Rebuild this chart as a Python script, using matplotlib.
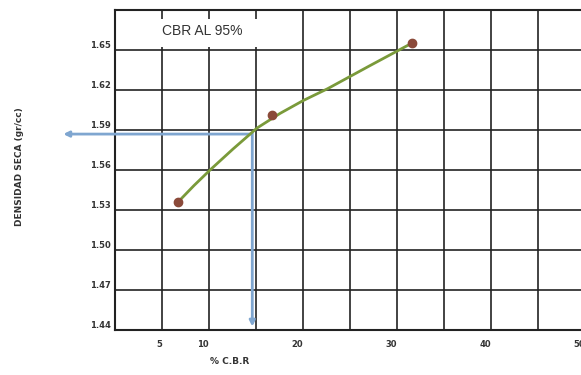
import numpy as np
import matplotlib.pyplot as plt
from matplotlib.patches import Rectangle

# ensayo CBR: puntos medidos
cbr = [6.7, 16.7, 31.6]
densidad = [1.536, 1.601, 1.655]

# curva dibujada a mano
curva_x = [6.7, 8.4, 10.1, 12.55, 15.1, 17.55, 20.0, 22.6, 27.13, 31.6]
curva_y = [1.536, 1.5484, 1.560, 1.5758, 1.5915, 1.6025, 1.6121, 1.621, 1.6384, 1.6553]

# lectura al 95%
cbr_95 = 14.6
dens_95 = 1.587

yticks = [1.44, 1.47, 1.50, 1.53, 1.56, 1.59, 1.62, 1.65]
ylabels = ["1.44", "1.47", "1.50", "1.53", "1.56", "1.59", "1.62", "1.65"]
xticks = [5, 10, 15, 20, 25, 30, 35, 40, 45, 50]
xlabels = ["5", "10", "", "20", "", "30", "", "40", "", "50"]

fig = plt.figure(figsize=(5.81, 3.75), dpi=100)
ax = fig.add_axes([0.198, 0.12, 0.809, 0.853])

ax.set_xlim(0, 50)
ax.set_ylim(1.44, 1.68)
ax.set_xticks(xticks)
ax.set_xticklabels(xlabels, ha="right", fontsize=6, fontweight="bold", color="#333333")
ax.set_yticks(yticks)
ax.set_yticklabels(ylabels, va="bottom", fontsize=6, fontweight="bold", color="#333333")
ax.tick_params(length=0)
ax.tick_params(axis="x", pad=7)
ax.tick_params(axis="y", pad=3)
ax.grid(True, color="#222222", lw=1.2)
ax.set_axisbelow(True)
for s in ["left", "top", "bottom"]:
    ax.spines[s].set_linewidth(1.5)
    ax.spines[s].set_color("#222222")
ax.spines["right"].set_visible(False)

# recuadro del titulo
ax.add_patch(Rectangle((4.0, 1.652), 11.05, 0.0215, facecolor="white",
                       edgecolor="none", zorder=2))
ax.text(5.0, 1.664, "CBR AL 95%", fontsize=10, family="Liberation Sans",
        color="#333333", va="center", zorder=3)

# flechas azules
ax.annotate("", xy=(cbr_95, 1.4405), xytext=(cbr_95, 1.59),
            arrowprops=dict(arrowstyle="-|>", color="#7fa6d0", lw=2,
                            mutation_scale=8), zorder=3, annotation_clip=False)
ax.annotate("", xy=(-5.8, dens_95), xytext=(cbr_95 + 0.1, dens_95),
            arrowprops=dict(arrowstyle="-|>", color="#7fa6d0", lw=2,
                            mutation_scale=8), zorder=3, annotation_clip=False)

ax.plot(curva_x, curva_y, color="#7a9a3a", lw=2, zorder=4)
ax.plot(cbr, densidad, "o", color="#8b4a3a", ms=6, zorder=5)

fig.text(0.034, 0.555, "DENSIDAD SECA (gr/cc)", rotation=90, fontsize=6.5,
         fontweight="bold", color="#333333", ha="center", va="center")
fig.text(0.396, 0.035, "% C.B.R", fontsize=6.5, fontweight="bold",
         color="#333333", ha="center", va="center")

fig.savefig("out.png", dpi=100)
